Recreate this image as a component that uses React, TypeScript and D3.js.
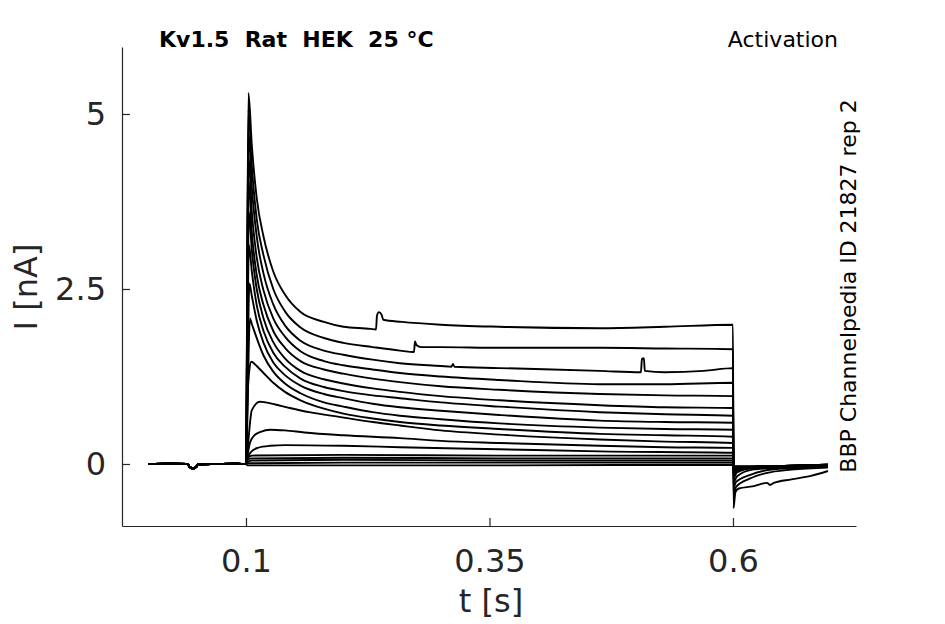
import React, { useRef, useEffect } from "react";
import * as d3 from "d3";

type Pt = [number, number];

// time in s, current in nA
const PRE_PULSE: Pt[] = [
  [0, 0], [0.02, 0.004], [0.04, 0], [0.042, -0.04], [0.0455, -0.065], [0.049, -0.04],
  [0.0505, -0.005], [0.07, 0], [0.09, 0.004], [0.1, 0],
];

const STEP_1: Pt[] = [
  [0.1025, 5.3], [0.106, 4.55], [0.111, 3.8], [0.118, 3.25], [0.128, 2.75], [0.14, 2.42],
  [0.156, 2.17], [0.18, 2.03], [0.2, 1.96], [0.228, 1.93], [0.2335, 1.92], [0.2345, 2.12],
  [0.2365, 2.17], [0.239, 2.14], [0.241, 2.06], [0.26, 2.03], [0.3, 1.99], [0.36, 1.96],
  [0.463, 1.94], [0.53, 1.96], [0.6, 1.99],
];
const STEP_2: Pt[] = [
  [0.1025, 5.05], [0.106, 4.25], [0.111, 3.5], [0.118, 2.98], [0.128, 2.5], [0.14, 2.18],
  [0.156, 1.95], [0.18, 1.8], [0.2, 1.73], [0.23, 1.67], [0.258, 1.62], [0.2725, 1.6],
  [0.2735, 1.75], [0.275, 1.7], [0.28, 1.67], [0.3, 1.67], [0.36, 1.66], [0.463, 1.66],
  [0.53, 1.65], [0.6, 1.64],
];
const STEP_3: Pt[] = [
  [0.1025, 4.75], [0.106, 3.95], [0.111, 3.25], [0.118, 2.72], [0.128, 2.28], [0.14, 1.98],
  [0.156, 1.76], [0.18, 1.62], [0.2, 1.56], [0.23, 1.49], [0.258, 1.44], [0.3, 1.4],
  [0.311, 1.39], [0.3125, 1.43], [0.314, 1.39], [0.36, 1.37], [0.463, 1.33], [0.5055, 1.31],
  [0.5065, 1.5], [0.5085, 1.51], [0.5095, 1.33], [0.53, 1.31], [0.57, 1.33], [0.6, 1.37],
];
const STEP_4: Pt[] = [
  [0.1025, 4.4], [0.106, 3.6], [0.111, 2.95], [0.118, 2.48], [0.128, 2.08], [0.14, 1.82],
  [0.156, 1.61], [0.18, 1.47], [0.2, 1.41], [0.23, 1.35], [0.258, 1.3], [0.3, 1.25],
  [0.36, 1.2], [0.463, 1.14], [0.53, 1.14], [0.6, 1.16],
];
const STEP_5: Pt[] = [
  [0.1025, 4.06], [0.106, 3.3], [0.111, 2.7], [0.118, 2.27], [0.128, 1.9], [0.14, 1.66],
  [0.156, 1.47], [0.18, 1.35], [0.2, 1.29], [0.23, 1.22], [0.258, 1.17], [0.3, 1.11],
  [0.36, 1.06], [0.463, 1.0], [0.53, 0.98], [0.6, 0.97],
];
const STEP_6: Pt[] = [
  [0.103, 3.6], [0.106, 3.05], [0.111, 2.5], [0.118, 2.08], [0.128, 1.74], [0.14, 1.51],
  [0.156, 1.33], [0.18, 1.21], [0.2, 1.15], [0.23, 1.08], [0.258, 1.03], [0.3, 0.97],
  [0.36, 0.91], [0.463, 0.84], [0.53, 0.81], [0.6, 0.8],
];
const STEP_7: Pt[] = [
  [0.103, 3.13], [0.106, 2.75], [0.111, 2.27], [0.118, 1.9], [0.128, 1.59], [0.14, 1.39],
  [0.156, 1.22], [0.18, 1.1], [0.2, 1.04], [0.23, 0.98], [0.258, 0.94], [0.3, 0.88],
  [0.36, 0.82], [0.463, 0.74], [0.53, 0.71], [0.6, 0.69],
];
const STEP_8: Pt[] = [
  [0.1035, 2.58], [0.106, 2.4], [0.111, 2.05], [0.118, 1.73], [0.128, 1.45], [0.14, 1.27],
  [0.156, 1.12], [0.18, 1.0], [0.2, 0.94], [0.23, 0.86], [0.258, 0.81], [0.3, 0.76],
  [0.36, 0.7], [0.463, 0.62], [0.53, 0.6], [0.6, 0.59],
];
const STEP_9: Pt[] = [
  [0.104, 2.08], [0.106, 2.0], [0.111, 1.8], [0.118, 1.55], [0.128, 1.32], [0.14, 1.15],
  [0.156, 1.01], [0.18, 0.88], [0.2, 0.82], [0.23, 0.74], [0.258, 0.69], [0.3, 0.64],
  [0.36, 0.58], [0.463, 0.52], [0.53, 0.5], [0.6, 0.49],
];
const STEP_10: Pt[] = [
  [0.1015, 0.9], [0.1035, 1.35], [0.1055, 1.46], [0.108, 1.44], [0.111, 1.4], [0.118, 1.3],
  [0.128, 1.16], [0.14, 1.03], [0.156, 0.91], [0.18, 0.79], [0.2, 0.72], [0.23, 0.65],
  [0.258, 0.6], [0.3, 0.55], [0.36, 0.5], [0.463, 0.43], [0.53, 0.41], [0.6, 0.39],
];
const STEP_11: Pt[] = [
  [0.1015, 0.2], [0.102, 0.27], [0.106, 0.77], [0.1144, 0.89], [0.12, 0.88], [0.13, 0.85],
  [0.145, 0.8], [0.165, 0.74], [0.197, 0.67], [0.23, 0.6], [0.258, 0.55], [0.3, 0.48],
  [0.36, 0.42], [0.463, 0.35], [0.53, 0.32], [0.6, 0.3],
];
const STEP_12: Pt[] = [
  [0.1015, 0.12], [0.104, 0.3], [0.108, 0.4], [0.115, 0.46], [0.125, 0.49], [0.14, 0.48],
  [0.16, 0.45], [0.2, 0.41], [0.258, 0.37], [0.3, 0.33], [0.36, 0.3], [0.463, 0.26],
  [0.53, 0.24], [0.6, 0.23],
];
const STEP_13: Pt[] = [
  [0.1015, 0.08], [0.105, 0.17], [0.112, 0.23], [0.125, 0.26], [0.14, 0.27], [0.2, 0.26],
  [0.258, 0.24], [0.36, 0.21], [0.463, 0.18], [0.6, 0.16],
];
const STEP_14: Pt[] = [[0.1015, 0.08], [0.106, 0.12], [0.2, 0.13], [0.36, 0.12], [0.6, 0.12]];
const STEP_15: Pt[] = [[0.1015, 0.06], [0.106, 0.08], [0.2, 0.09], [0.36, 0.08], [0.6, 0.08]];
const STEP_16: Pt[] = [[0.1015, 0.03], [0.106, 0.05], [0.2, 0.06], [0.36, 0.05], [0.6, 0.05]];
const STEP_17: Pt[] = [[0.1015, 0.01], [0.2, 0.02], [0.36, 0.02], [0.6, 0.02]];
const STEP_18: Pt[] = [[0.1015, -0.02], [0.2, -0.02], [0.36, -0.02], [0.6, -0.01]];

const TAIL_1: Pt[] = [
  [0.6005, -0.63], [0.6025, -0.4], [0.606, -0.35], [0.62, -0.32], [0.635, -0.27],
  [0.638, -0.3], [0.642, -0.27], [0.66, -0.22], [0.68, -0.17], [0.6975, -0.1],
];
const TAIL_2: Pt[] = [[0.6005, -0.45], [0.603, -0.33], [0.617, -0.21], [0.634, -0.13], [0.66, -0.08], [0.6975, -0.05]];
const TAIL_3: Pt[] = [[0.6005, -0.34], [0.603, -0.26], [0.617, -0.16], [0.634, -0.09], [0.66, -0.06], [0.6975, -0.04]];
const TAIL_4: Pt[] = [[0.6005, -0.26], [0.604, -0.18], [0.62, -0.08], [0.65, -0.05], [0.6975, -0.03]];
const TAIL_5: Pt[] = [[0.6005, -0.2], [0.604, -0.12], [0.62, -0.06], [0.6975, -0.03]];
const TAIL_6: Pt[] = [[0.6005, -0.16], [0.604, -0.09], [0.62, -0.05], [0.6975, -0.02]];
const TAIL_7: Pt[] = [[0.6005, -0.13], [0.605, -0.07], [0.6975, -0.03]];
const TAIL_8: Pt[] = [[0.6005, -0.11], [0.605, -0.06], [0.6975, -0.02]];
const TAIL_SMALL: Pt[] = [[0.6005, -0.08], [0.605, -0.05], [0.6975, -0.02]];
const TAIL_FLAT: Pt[] = [[0.6005, -0.04], [0.6975, -0.01]];

const STEPS = [
  STEP_1, STEP_2, STEP_3, STEP_4, STEP_5, STEP_6, STEP_7, STEP_8, STEP_9,
  STEP_10, STEP_11, STEP_12, STEP_13, STEP_14, STEP_15, STEP_16, STEP_17, STEP_18,
];
const TAILS = [
  TAIL_1, TAIL_2, TAIL_3, TAIL_4, TAIL_5, TAIL_6, TAIL_7, TAIL_8, TAIL_SMALL,
  TAIL_SMALL, TAIL_SMALL, TAIL_SMALL, TAIL_FLAT, TAIL_FLAT, TAIL_FLAT, TAIL_FLAT, TAIL_FLAT, TAIL_FLAT,
];

const X_TICKS = [0.1, 0.35, 0.6];
const Y_TICKS = [0, 2.5, 5];

const TITLE = "Kv1.5  Rat  HEK  25 °C";
const PROTOCOL = "Activation";
const SOURCE = "BBP Channelpedia ID 21827 rep 2";

const App: React.FC = () => {
  const svgRef = useRef<SVGSVGElement | null>(null);

  const width = 945;
  const height = 624;
  const left = 122;
  const right = 856;
  const top = 47;
  const bottom = 526;
  const axisColor = "#262626";
  const font = "DejaVu Sans, sans-serif";

  const xScale = d3.scaleLinear().domain([-0.0273, 0.7263]).range([left, right]);
  const yScale = d3.scaleLinear().domain([-0.886, 5.957]).range([bottom, top]);

  useEffect(() => {
    if (!svgRef.current) return;
    const svg = d3.select(svgRef.current);
    svg.selectAll("*").remove();

    // traces
    const line = d3
      .line<Pt>()
      .x((d) => xScale(d[0]))
      .y((d) => yScale(d[1]))
      .curve(d3.curveMonotoneX);

    STEPS.forEach((step, i) => {
      const pts: Pt[] = [...PRE_PULSE, ...step, ...TAILS[i]];
      svg.append("path")
        .attr("d", line(pts) || "")
        .attr("fill", "none")
        .attr("stroke", "#000")
        .attr("stroke-width", 1.9)
        .attr("stroke-linejoin", "round");
    });

    // axes, ticks pointing inward
    const xAxis = svg.append("g")
      .attr("transform", `translate(0,${bottom})`)
      .call(
        d3.axisBottom(xScale).tickValues(X_TICKS).tickSizeInner(-8).tickSizeOuter(0)
          .tickPadding(23).tickFormat((d) => String(d))
      );
    const yAxis = svg.append("g")
      .attr("transform", `translate(${left},0)`)
      .call(
        d3.axisLeft(yScale).tickValues(Y_TICKS).tickSizeInner(-8).tickSizeOuter(0)
          .tickPadding(16).tickFormat((d) => String(d))
      );
    [xAxis, yAxis].forEach((g) => {
      g.select(".domain").attr("stroke", axisColor).attr("stroke-width", 1.2);
      g.selectAll(".tick line").attr("stroke", axisColor).attr("stroke-width", 1.2);
      g.selectAll(".tick text")
        .attr("fill", axisColor)
        .style("font-family", font)
        .style("font-size", "32px");
    });

    // axis labels
    svg.append("text")
      .attr("x", (left + right) / 2 + 2)
      .attr("y", 612)
      .attr("text-anchor", "middle")
      .attr("fill", axisColor)
      .style("font-family", font)
      .style("font-size", "32px")
      .text("t [s]");

    svg.append("text")
      .attr("transform", `translate(37,287) rotate(-90)`)
      .attr("text-anchor", "middle")
      .attr("fill", axisColor)
      .style("font-family", font)
      .style("font-size", "32px")
      .text("I [nA]");

    // header texts
    svg.append("text")
      .attr("x", 159)
      .attr("y", 47)
      .attr("fill", "#000")
      .style("font-family", font)
      .style("font-size", "22px")
      .style("font-weight", "bold")
      .style("white-space", "pre")
      .text(TITLE);

    svg.append("text")
      .attr("x", 838)
      .attr("y", 47)
      .attr("text-anchor", "end")
      .attr("fill", "#000")
      .style("font-family", font)
      .style("font-size", "22px")
      .text(PROTOCOL);

    svg.append("text")
      .attr("transform", `translate(856,286) rotate(-90)`)
      .attr("text-anchor", "middle")
      .attr("fill", "#000")
      .style("font-family", font)
      .style("font-size", "22px")
      .text(SOURCE);
  }, []);

  return (
    <svg
      ref={svgRef}
      width={width}
      height={height}
      style={{ position: "absolute", left: 0, top: 0, background: "#fff", display: "block" }}
    />
  );
};

export default App;
